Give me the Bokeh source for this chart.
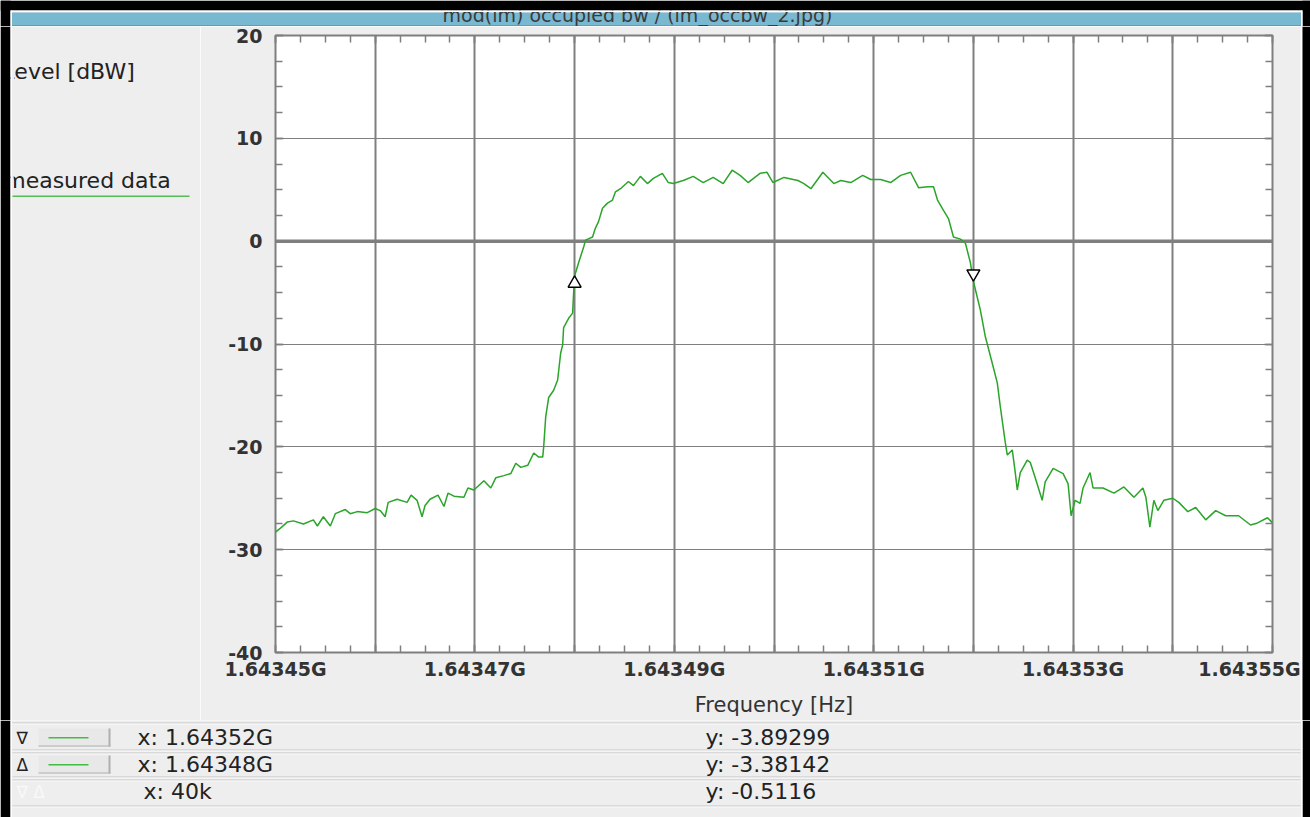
from bokeh.plotting import figure
from bokeh.layouts import column, row
from bokeh.models import (Range1d, LinearAxis, Grid, SingleIntervalTicker,
                          CustomJSTickFormatter, Span)
from bokeh.core.properties import value
from bokeh.embed import file_html
from bokeh.resources import INLINE

# ---------------- data ----------------
F_START = 1.64345e9
F_STOP = 1.64355e9
LEVEL_MIN, LEVEL_MAX = -40, 20

# measured spectrum: frequency offset from F_START (kHz) and level (dBW)
freq_offset_khz = [
    0.0, 0.5, 1.2, 1.8, 2.8, 3.8, 4.2, 4.8, 5.5, 6.0,
    7.0, 7.5, 8.2, 9.2, 10.0, 10.5, 11.0, 11.3, 12.2, 13.2,
    13.6, 14.2, 14.7, 15.0, 15.5, 16.3, 16.9, 17.3, 17.9, 18.9,
    19.3, 19.9, 20.9, 21.6, 22.1, 22.9, 23.6, 24.1, 24.6, 25.3,
    25.9, 26.4, 26.8, 26.9, 27.1, 27.4, 27.9, 28.3, 28.6, 28.8,
    28.9, 29.4, 29.8, 29.9, 30.0, 30.4, 30.9, 31.1, 31.8, 32.1,
    32.4, 32.8, 33.3, 33.8, 34.1, 34.6, 35.4, 35.9, 36.6, 37.3,
    37.9, 38.8, 39.4, 39.9, 40.9, 41.9, 42.9, 43.9, 44.9, 45.8,
    46.6, 47.4, 48.6, 49.3, 49.9, 51.0, 52.4, 53.0, 53.7, 54.9,
    56.0, 56.7, 57.7, 58.9, 59.7, 60.7, 61.7, 62.7, 63.7, 64.5,
    65.4, 66.0, 66.4, 67.0, 67.5, 68.0, 68.7, 69.2, 69.7, 70.0,
    70.7, 71.2, 71.9, 72.4, 72.7, 73.2, 73.4, 73.9, 74.2, 74.4,
    74.7, 75.4, 75.7, 76.2, 76.9, 77.2, 78.0, 79.0, 79.5, 79.8,
    80.2, 80.7, 81.0, 81.7, 82.0, 83.0, 84.1, 85.1, 86.1, 87.0,
    87.3, 87.7, 88.1, 88.5, 89.1, 90.0, 90.6, 91.5, 92.3, 93.3,
    94.3, 95.3, 96.6, 97.8, 98.5, 99.5, 100.0,
]
level_dbw = [
    -28.3, -27.9, -27.3, -27.2, -27.5, -27.1, -27.7, -26.8, -27.7, -26.5,
    -26.1, -26.5, -26.3, -26.4, -26.0, -26.2, -26.8, -25.4, -25.1, -25.4,
    -24.7, -25.2, -26.8, -25.7, -25.1, -24.7, -25.8, -24.5, -24.8, -24.9,
    -24.0, -24.2, -23.3, -24.0, -23.0, -22.8, -22.6, -21.6, -22.0, -21.8,
    -20.6, -21.0, -21.0, -20.0, -17.1, -15.2, -14.5, -13.5, -10.9, -10.1,
    -8.4, -7.5, -7.0, -5.1, -3.38142, -2.1, -0.6, 0.1, 0.4, 1.3,
    1.9, 3.2, 3.7, 4.0, 4.8, 5.1, 5.8, 5.4, 6.3, 5.6,
    6.1, 6.6, 5.7, 5.6, 5.9, 6.3, 5.7, 6.2, 5.6, 6.9,
    6.4, 5.7, 6.6, 6.7, 5.7, 6.2, 5.9, 5.6, 5.1, 6.7,
    5.6, 5.9, 5.7, 6.4, 6.0, 6.0, 5.7, 6.4, 6.7, 5.2,
    5.3, 5.3, 4.0, 3.0, 2.2, 0.4, 0.2, -0.2, -2.1, -3.89299,
    -6.7, -9.3, -11.9, -13.8, -16.1, -19.6, -20.8, -20.3, -22.5, -24.2,
    -22.5, -21.3, -21.5, -23.0, -25.2, -23.4, -22.1, -22.6, -23.6, -26.7,
    -25.2, -25.5, -24.0, -22.5, -24.0, -24.0, -24.5, -23.9, -24.9, -24.0,
    -24.9, -27.8, -25.2, -26.2, -25.2, -25.0, -25.4, -26.3, -25.9, -27.1,
    -26.2, -26.7, -26.7, -27.6, -27.4, -26.9, -27.4,
]

# occupied-bandwidth markers (upper edge, lower edge)
marker_symbols = ["\u2207", "\u0394"]
marker_freq_hz = [1.64352e9, 1.64348e9]
marker_level_dbw = [-3.89299, -3.38142]

title_text = "mod(im) occupied bw / (im_occbw_2.jpg)"
y_label_text = "Level [dBW]"
series_name = "measured data"
x_label_text = "Frequency [Hz]"

# ---------------- page geometry / style ----------------
W, H = 1310, 817
TOP_H = 26                 # title strip height
MID_B = 720                # bottom of the chart row
LEFT_W = 200               # legend column width
RIGHT_X = 1300             # start of the right window edge strip
FL, FR, FT, FB = 275, 1272, 35, 652   # plot frame edges on the page
FONT = "DejaVu Sans"
GRID = "#7f7f7f"
PANEL = "#eeeeee"
TRACE = "#2aa52a"
PX_PER_DB = (FB - FT) / (LEVEL_MAX - LEVEL_MIN)


def page_fig(x0, x1, y0, y1):
    """figure whose data space is page pixels (y grows downwards)"""
    f = figure(width=x1 - x0, height=y1 - y0,
               x_range=Range1d(x0, x1), y_range=Range1d(y1, y0),
               x_axis_type=None, y_axis_type=None,
               output_backend="svg", toolbar_location=None,
               min_border_left=0, min_border_right=0,
               min_border_top=0, min_border_bottom=0,
               frame_align=False)
    f.outline_line_color = None
    f.background_fill_color = PANEL
    f.border_fill_color = PANEL
    return f


def rects(f, boxes, color):
    f.quad(left=[b[0] for b in boxes], top=[b[1] for b in boxes],
           right=[b[2] for b in boxes], bottom=[b[3] for b in boxes],
           fill_color=color, line_color=None)


def label(f, px, py, s, size="22px", color="#222222", align="left",
          baseline="middle"):
    f.text(x=[px], y=[py], text=[s], text_font=value(FONT),
           text_font_size=value(size), text_color=color,
           text_align=align, text_baseline=baseline)


def window_edges(f, y0, y1, top=False):
    if top:
        rects(f, [(0, 0, W, 10)], "black")
        rects(f, [(10, 10, 1302, 11.5)], "white")
    rects(f, [(0, y0, 10, y1), (1302, y0, W, y1)], "black")
    rects(f, [(10, max(y0, 10), 11.5, y1), (1300.5, max(y0, 10), 1302, y1)], "white")


# ---------------- title strip ----------------
top = page_fig(0, W, 0, TOP_H)
rects(top, [(11.5, 12, 1300.5, TOP_H)], "#79b8d1")
rects(top, [(11.5, TOP_H - 1.5, 1300.5, TOP_H)], "#5e9db6")
label(top, 637, 14, title_text, size="19px", color="#3a3a3a", align="center")
window_edges(top, 0, TOP_H, top=True)

# ---------------- legend column ----------------
left = page_fig(0, LEFT_W, TOP_H, MID_B)
label(left, 2, 71, y_label_text)
label(left, 3.7, 180, series_name)
rects(left, [(11.5, 55, 14, 90), (11.5, 165, 13.2, 194)], PANEL)
rects(left, [(12, 195, 189, 196.5)], "#55bb55")
rects(left, [(0, TOP_H, 10, MID_B)], "black")
rects(left, [(10, TOP_H, 11.5, MID_B)], "white")

# ---------------- right window edge ----------------
right = page_fig(RIGHT_X, W, TOP_H, MID_B)
rects(right, [(1300.5, TOP_H, 1302, MID_B)], "white")
rects(right, [(1302, TOP_H, W, MID_B)], "black")

# ---------------- spectrum chart ----------------
p = figure(width=RIGHT_X - LEFT_W, height=MID_B - TOP_H,
           x_range=Range1d(F_START, F_STOP), y_range=Range1d(LEVEL_MIN, LEVEL_MAX),
           x_axis_type=None, y_axis_type=None,
           output_backend="svg", toolbar_location=None,
           min_border_left=FL - LEFT_W, min_border_right=RIGHT_X - FR,
           min_border_top=FT - TOP_H, min_border_bottom=MID_B - FB,
           frame_align=False)
p.border_fill_color = PANEL
p.background_fill_color = "white"
p.outline_line_color = GRID
p.outline_line_width = 2

x_ticker = SingleIntervalTicker(interval=1e4, num_minor_ticks=4)
y_ticker = SingleIntervalTicker(interval=10, num_minor_ticks=4)
freq_fmt = CustomJSTickFormatter(args=dict(start=F_START, step=1e4), code="""
    const k = Math.round((tick - start) / step);
    return (k % 2 == 0) ? (tick / 1e9).toFixed(5) + "G" : "";
""")
level_fmt = CustomJSTickFormatter(code="return tick.toFixed(0);")


def style_axis(ax):
    ax.axis_line_color = None
    ax.major_tick_line_color = GRID
    ax.minor_tick_line_color = GRID
    ax.major_tick_line_width = 1.5
    ax.minor_tick_line_width = 1.5
    ax.major_tick_in = 8
    ax.major_tick_out = 0
    ax.minor_tick_in = 7
    ax.minor_tick_out = 0
    ax.major_label_text_font = FONT
    ax.major_label_text_font_style = "bold"
    ax.major_label_text_font_size = "19px"
    ax.major_label_text_color = "#333333"


xaxis = LinearAxis(ticker=x_ticker, formatter=freq_fmt, axis_label=x_label_text,
                   major_label_standoff=5, axis_label_standoff=10)
style_axis(xaxis)
xaxis.axis_label_text_font = FONT
xaxis.axis_label_text_font_size = "21px"
xaxis.axis_label_text_font_style = "normal"
xaxis.axis_label_text_color = "#333333"
p.add_layout(xaxis, "below")

yaxis = LinearAxis(ticker=y_ticker, formatter=level_fmt, major_label_standoff=13)
style_axis(yaxis)
p.add_layout(yaxis, "left")

for place, tk in (("above", x_ticker), ("right", y_ticker)):
    ax = LinearAxis(ticker=tk, formatter=CustomJSTickFormatter(code="return '';"))
    style_axis(ax)
    ax.major_label_text_font_size = "0px"
    p.add_layout(ax, place)

p.add_layout(Grid(dimension=0, ticker=x_ticker, grid_line_color=GRID, grid_line_width=2))
p.add_layout(Grid(dimension=1, ticker=y_ticker, grid_line_color=GRID, grid_line_width=1.2))
p.add_layout(Span(location=0, dimension="width", line_color=GRID, line_width=3.5,
                  level="underlay"))

freq_hz = [F_START + k * 1e3 for k in freq_offset_khz]
p.line(x=freq_hz, y=level_dbw, line_color=TRACE, line_width=1.5)

TRI_SIZE = 13
tip = 1.155 * (TRI_SIZE / 2) / PX_PER_DB      # centre-to-apex distance in dB
tri_y = [marker_level_dbw[0] + tip, marker_level_dbw[1] - tip]
p.scatter(x=marker_freq_hz, y=tri_y, marker=["inverted_triangle", "triangle"],
          size=TRI_SIZE, fill_color="white", line_color="black", line_width=1.4)

# ---------------- marker read-out rows ----------------
bottom = page_fig(0, W, MID_B, H)
row_y = [737, 764, 791]
rects(bottom, [(12, yl, 1300, yl + 1) for yl in (722, 749, 752, 776, 779, 805)], "#c4c4c4")
rects(bottom, [(12, yl + 1, 1300, yl + 2) for yl in (722, 749, 752, 776, 779, 805)], "#fafafa")

for i in range(2):
    yc = row_y[i]
    label(bottom, 16, yc, marker_symbols[i], size="17px")
    rects(bottom, [(38, yc - 9, 110, yc + 9)], "#e8e8e8")
    rects(bottom, [(108, yc - 9, 110, yc + 9), (38, yc + 8, 110, yc + 9)], "#b0b0b0")
    rects(bottom, [(48, yc - 0.5, 88, yc + 1)], "#44bb44")
    label(bottom, 137, yc, "x: %.5fG" % (marker_freq_hz[i] / 1e9))
    label(bottom, 705, yc, "y: %.5f" % marker_level_dbw[i])

delta_f = marker_freq_hz[0] - marker_freq_hz[1]
delta_l = marker_level_dbw[0] - marker_level_dbw[1]
label(bottom, 16, row_y[2], marker_symbols[0] + " " + marker_symbols[1],
      size="17px", color="#f8f8f8")
label(bottom, 143, row_y[2], "x: %dk" % round(delta_f / 1e3))
label(bottom, 705, row_y[2], "y: %.4f" % delta_l)
window_edges(bottom, MID_B, H)

page = column(top, row(left, p, right), bottom)
open("out.html", "w").write(file_html(page, INLINE))
